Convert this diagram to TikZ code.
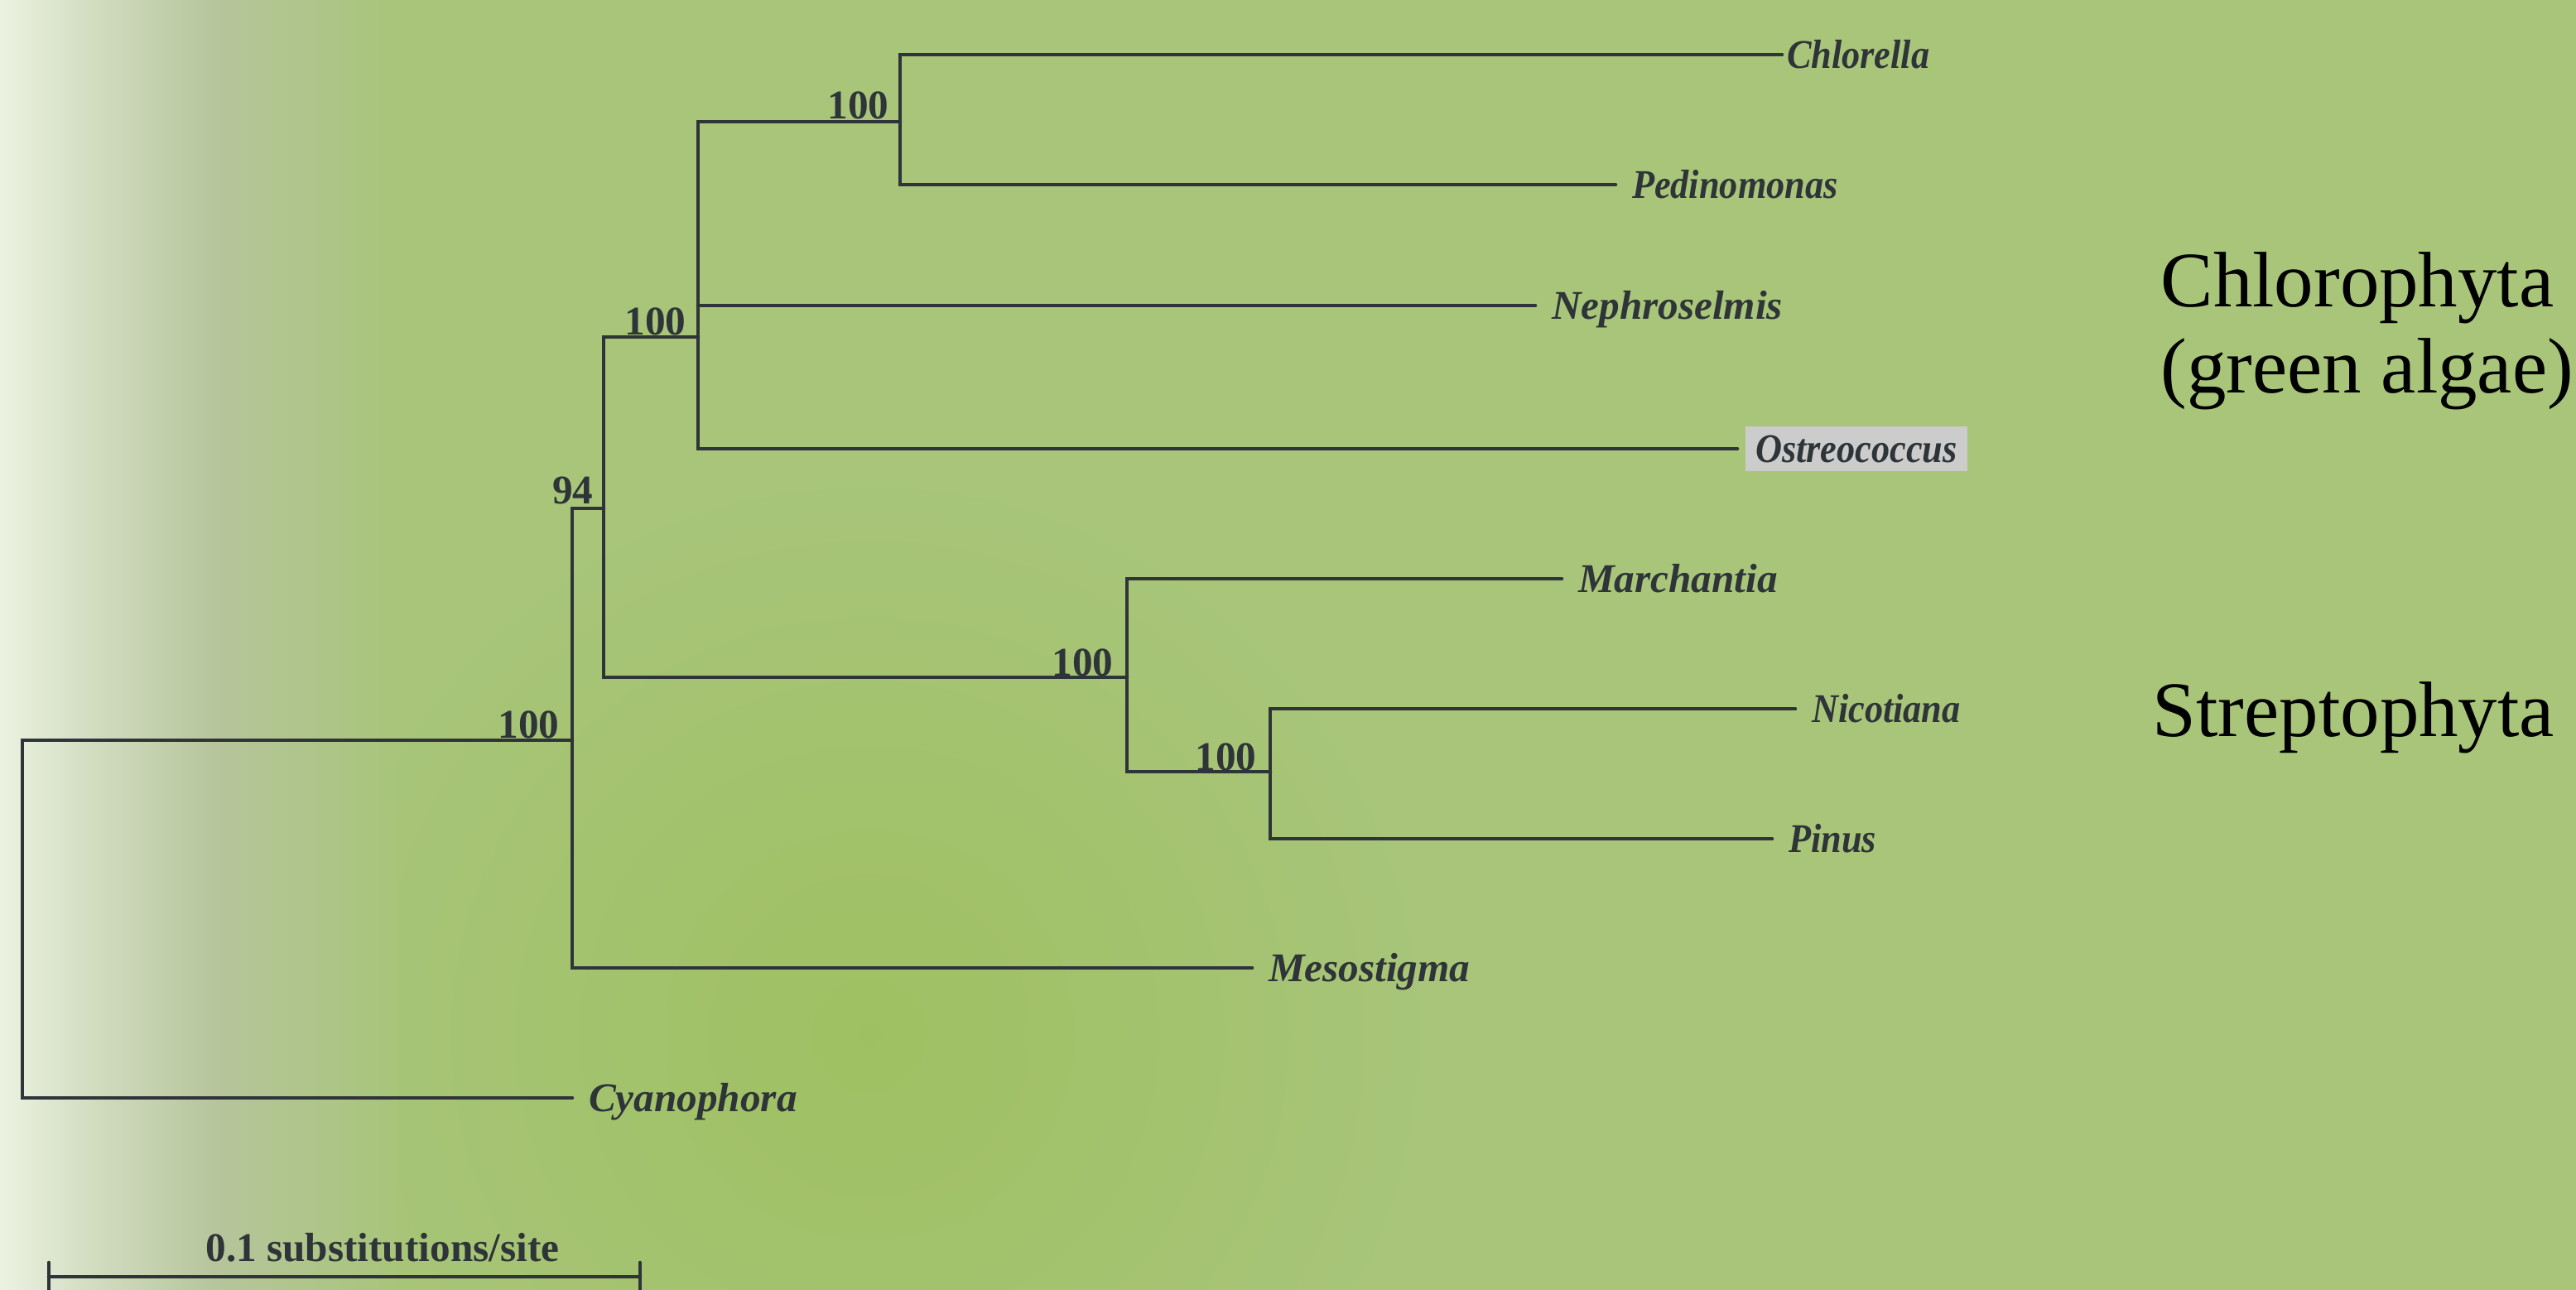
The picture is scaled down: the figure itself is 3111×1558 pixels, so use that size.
\documentclass[tikz,border=0pt]{standalone}
\usepackage{fontspec}
\setmainfont{Liberation Serif}
\newfontfamily\narrowserif[FakeStretch=0.9]{Liberation Serif}
\usetikzlibrary{positioning,calc}
\definecolor{ink}{HTML}{2E3438}
\definecolor{leafgreen}{HTML}{A8C57A}
\definecolor{palegreen}{HTML}{ECF2E2}
\definecolor{mistgreen}{HTML}{D0DBBE}
\definecolor{greygreen}{HTML}{B6C59C}
\definecolor{deepgreen}{HTML}{9FC062}
\definecolor{boxgrey}{HTML}{CCCCCC}
\tikzset{
    branch/.style={draw=ink,line width=1.3pt,line cap=round,line join=miter},
    taxon/.style={anchor=west,inner sep=0pt,outer sep=0.2cm,text=ink,
      font=\fontsize{14}{16}\selectfont\bfseries\itshape,
      text height=9.3pt,text depth=0pt},
    narrow/.style={font=\narrowserif\fontsize{14}{16}\selectfont\bfseries\itshape},
    highlight/.style={fill=boxgrey,inner xsep=0.12cm,inner ysep=3pt,outer sep=0.1cm},
    support/.style={anchor=base east,inner sep=0pt,text=ink,
      font=\fontsize{14}{16}\selectfont\bfseries},
    barlabel/.style={anchor=base,inner sep=0pt,text=ink,
      font=\fontsize{14}{16}\selectfont\bfseries},
    clade/.style={anchor=base west,inner sep=0pt,text=black,
      font=\fontsize{27}{30}\selectfont}
}
\begin{document}
\begin{tikzpicture}[x=0.01cm,y=-0.01cm]
  \useasboundingbox (0,0) rectangle (3111,1558);
  % background
  \fill[leafgreen] (0,0) rectangle (3111,1558);
  \shade[inner color=deepgreen,outer color=leafgreen] (1050,1250) circle (700);
  \shade[left color=palegreen,right color=mistgreen] (0,0) rectangle (120,1558);
  \shade[left color=mistgreen,right color=greygreen] (120,0) rectangle (260,1558);
  \shade[left color=greygreen,right color=leafgreen] (260,0) rectangle (480,1558);

  % inner nodes of the tree
  \coordinate (root) at (27,1100);
  \coordinate (n0) at (691,894);
  \coordinate (n1) at (729,614);
  \coordinate (n2) at (843,407);
  \coordinate (n3) at (1087,147);
  \coordinate (n4) at (1361,818);
  \coordinate (n5) at (1534,932);

  % leaves
  \node[taxon,narrow,outer xsep=0.06cm] (chlorella) at (2152,66) {Chlorella};
  \node[taxon,narrow] (pedinomonas) at (1951,223) {Pedinomonas};
  \node[taxon] (nephroselmis) at (1854,369) {Nephroselmis};
  \node[taxon,narrow,highlight] (ostreococcus) at (2098,542) {Ostreococcus};
  \node[taxon] (marchantia) at (1886,699) {Marchantia};
  \node[taxon,narrow] (nicotiana) at (2168,856) {Nicotiana};
  \node[taxon,narrow] (pinus) at (2140,1013) {Pinus};
  \node[taxon] (mesostigma) at (1512,1169) {Mesostigma};
  \node[taxon] (cyanophora) at (691,1326) {Cyanophora};

  % branches
  \draw[branch] (chlorella.west) -| (n3) |- (pedinomonas.west);
  \draw[branch] (n3) -| (n2) |- (ostreococcus.west);
  \draw[branch] (n2 |- nephroselmis.west) -- (nephroselmis.west);
  \draw[branch] (n2) -| (n1) |- (n4);
  \draw[branch] (marchantia.west) -| (n4) |- (n5);
  \draw[branch] (nicotiana.west) -| (n5) |- (pinus.west);
  \draw[branch] (n1) -| (n0) |- (mesostigma.west);
  \draw[branch] (n0) -| (root) |- (cyanophora.west);

  % bootstrap values
  \node[support] (b3) at ([shift={(-13,-3)}]n3) {100};
  \node[support] (b2) at ([shift={(-14,-2)}]n2) {100};
  \node[support] (b1) at ([shift={(-12,-5)}]n1) {94};
  \node[support] (b0) at ([shift={(-15,-3)}]n0) {100};
  \node[support] (b4) at ([shift={(-16,-1)}]n4) {100};
  \node[support] (b5) at ([shift={(-16,-2)}]n5) {100};

  % clades
  \node[clade] (chloro) at (2609,371) {Chlorophyta};
  \node[clade] (chloroalt) at (2609,475) {(green algae)};
  \node[clade] (strepto) at (2599,889) {Streptophyta};

  % scale bar
  \coordinate (barl) at (59,1542);
  \coordinate (barr) at (773,1542);
  \draw[branch] (barl) -- (barr);
  \draw[branch] ([shift={(0,-17)}]barl) -- ([shift={(0,17)}]barl);
  \draw[branch] ([shift={(0,-17)}]barr) -- ([shift={(0,17)}]barr);
  \node[barlabel] (barname) at (462,1523) {0.1 substitutions/site};
\end{tikzpicture}
\end{document}
